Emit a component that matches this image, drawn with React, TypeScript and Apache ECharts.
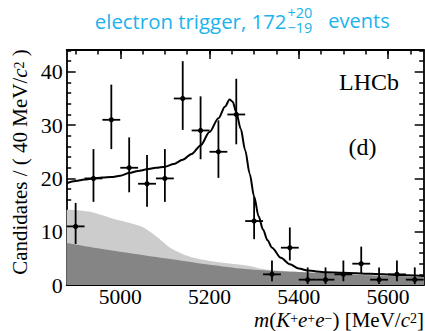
import React, { useEffect, useRef } from "react";
import * as echarts from "echarts";

// ---- data ----
const binCenters = [4900, 4940, 4980, 5020, 5060, 5100, 5140, 5180, 5220, 5260, 5300, 5340, 5380, 5420, 5460, 5500, 5540, 5580, 5620, 5660];
const counts = [11, 20, 31, 22, 19, 20, 35, 29, 25, 32, 12, 2, 7, 1, 1, 2, 4, 1, 2, 1];
const errLow = [7.7, 15.6, 25.5, 17.4, 14.7, 15.6, 29.1, 23.6, 20.1, 26.4, 8.6, 0.7, 4.6, 0.17, 0.17, 0.7, 2.1, 0.17, 0.7, 0.17];
const errHigh = [15.4, 25.5, 37.6, 27.7, 24.4, 25.5, 42.0, 35.4, 30.9, 38.7, 16.6, 4.6, 10.8, 3.3, 3.3, 4.6, 7.2, 3.3, 4.6, 3.3];
const binHalfWidth = 20;

const fitMass = [4880, 4900, 4920, 4940, 4960, 4980, 5000, 5020, 5040, 5060, 5080, 5100, 5120, 5140, 5160, 5180, 5200, 5220, 5235, 5245, 5252, 5260, 5270, 5280, 5290, 5300, 5310, 5320, 5330, 5340, 5360, 5380, 5400, 5420, 5460, 5500, 5560, 5620, 5680];
const fitValues = [19.1, 19.5, 19.8, 20.0, 20.15, 20.25, 20.5, 21.0, 21.4, 21.7, 22.0, 22.2, 22.7, 23.5, 24.6, 26.2, 28.7, 31.3, 33.5, 34.8, 34.4, 32.4, 29.3, 25.3, 20.9, 16.6, 12.9, 10.4, 8.4, 7.0, 5.1, 3.9, 3.1, 2.7, 2.4, 2.3, 2.1, 1.9, 1.7];

const partRecoMass = [4880, 4910, 4935, 4960, 4990, 5020, 5050, 5070, 5090, 5110, 5130, 5150, 5170, 5200, 5240, 5280, 5320, 5350, 5440, 5540, 5680];
const partRecoTop = [14.1, 14.0, 13.7, 13.1, 12.3, 11.7, 10.9, 9.8, 8.5, 7.1, 6.2, 5.5, 5.0, 4.5, 4.1, 3.7, 3.0, 2.7, 2.3, 1.9, 1.5];

const combMass = [4880, 4950, 5020, 5100, 5150, 5200, 5280, 5360, 5440, 5540, 5680];
const combValues = [7.9, 6.9, 6.0, 5.0, 4.4, 3.8, 3.0, 2.6, 2.3, 1.9, 1.5];

const xMajorTicks = [5000, 5200, 5400, 5600];
const xMinorTicks = [4900, 4950, 5000, 5050, 5100, 5150, 5200, 5250, 5300, 5350, 5400, 5450, 5500, 5550, 5600, 5650];
const yMajorTicks = [0, 10, 20, 30, 40];
const yMinorTicks = [2, 4, 6, 8, 12, 14, 16, 18, 22, 24, 26, 28, 32, 34, 36, 38, 42, 44];

const titleMain = "electron trigger, 172";
const titleUp = "+20";
const titleDown = "\u221219";
const titleTail = "events";

const X_MIN = 4880;
const X_MAX = 5680;
const Y_MIN = 0;
const Y_MAX = 44.1;

const SERIF = "Liberation Serif";
const SANS = "Open Sans";
const TITLE_COLOR = "#1ab3ec";

const zip = (a: number[], b: number[]) => a.map((v, i) => [v, b[i]]);

const lineStyle = { color: "#000", width: 1.8 };

function makeXAxis(position: "top" | "bottom", major: boolean, showLabels: boolean) {
  return {
    type: "value",
    position,
    min: X_MIN,
    max: X_MAX,
    axisLine: { show: major, onZero: false, lineStyle },
    axisTick: {
      show: true,
      inside: true,
      length: major ? 9 : 4.5,
      customValues: major ? xMajorTicks : xMinorTicks,
      lineStyle: { color: "#000", width: 1.5 },
    },
    axisLabel: showLabels
      ? {
          show: true,
          customValues: xMajorTicks,
          formatter: (v: number) => String(v),
          fontFamily: SERIF,
          fontSize: 21.5,
          lineHeight: 16,
          color: "#000",
          margin: 4,
        }
      : { show: false },
    splitLine: { show: false },
  };
}

function makeYAxis(position: "left" | "right", major: boolean, showLabels: boolean) {
  return {
    type: "value",
    position,
    min: Y_MIN,
    max: Y_MAX,
    axisLine: { show: major, onZero: false, lineStyle },
    axisTick: {
      show: true,
      inside: true,
      length: major ? 9 : 4.5,
      customValues: major ? yMajorTicks : yMinorTicks,
      lineStyle: { color: "#000", width: 1.5 },
    },
    axisLabel: showLabels
      ? {
          show: true,
          customValues: yMajorTicks,
          formatter: (v: number) => String(v),
          fontFamily: SERIF,
          fontSize: 22,
          color: "#000",
          margin: 4,
        }
      : { show: false },
    splitLine: { show: false },
  };
}

const richSerif = {
  n: { fontFamily: SERIF, fontSize: 21, lineHeight: 16, fill: "#000" },
  i: { fontFamily: SERIF, fontSize: 21, lineHeight: 16, fontStyle: "italic", fill: "#000" },
  s: { fontFamily: SERIF, fontSize: 14, lineHeight: 1, verticalAlign: "top", fill: "#000" },
};

export default function App() {
  const ref = useRef<HTMLDivElement>(null);
  useEffect(() => {
    if (!ref.current) return;
    const chart = echarts.init(ref.current, null, { renderer: "svg" });
    const option: any = {
      animation: false,
      backgroundColor: "#fff",
      grid: { left: 66.7, right: 1.3, top: 50, bottom: 46, containLabel: false },
      xAxis: [
        makeXAxis("bottom", true, true),
        makeXAxis("bottom", false, false),
        makeXAxis("top", true, false),
        makeXAxis("top", false, false),
      ],
      yAxis: [
        makeYAxis("left", true, true),
        makeYAxis("left", false, false),
        makeYAxis("right", true, false),
        makeYAxis("right", false, false),
      ],
      series: [
        {
          type: "line",
          name: "partially reconstructed",
          xAxisIndex: 0,
          yAxisIndex: 0,
          data: zip(partRecoMass, partRecoTop),
          symbol: "none",
          smooth: 0.3,
          lineStyle: { width: 0 },
          areaStyle: { color: "#cccccc", opacity: 1 },
          silent: true,
          z: 1,
        },
        {
          type: "line",
          name: "combinatorial",
          xAxisIndex: 0,
          yAxisIndex: 0,
          data: zip(combMass, combValues),
          symbol: "none",
          smooth: 0.3,
          lineStyle: { width: 0 },
          areaStyle: { color: "#858585", opacity: 1 },
          silent: true,
          z: 2,
        },
        {
          type: "line",
          name: "fit",
          xAxisIndex: 0,
          yAxisIndex: 0,
          data: zip(fitMass, fitValues),
          symbol: "none",
          smooth: 0.3,
          smoothMonotone: "x",
          lineStyle: { color: "#000", width: 2 },
          silent: true,
          z: 3,
        },
        {
          type: "custom",
          name: "data",
          xAxisIndex: 0,
          yAxisIndex: 0,
          z: 4,
          silent: true,
          encode: { x: 0, y: [1, 2, 3] },
          data: binCenters.map((m, i) => [m, counts[i], errLow[i], errHigh[i]]),
          renderItem: (_params: any, api: any) => {
            const x = api.value(0);
            const y = api.value(1);
            const lo = api.value(2);
            const hi = api.value(3);
            const c = api.coord([x, y]);
            const l = api.coord([x - binHalfWidth, y]);
            const r = api.coord([x + binHalfWidth, y]);
            const t = api.coord([x, hi]);
            const b = api.coord([x, lo]);
            const st = { stroke: "#000", lineWidth: 1.8 };
            return {
              type: "group",
              children: [
                { type: "line", shape: { x1: l[0], y1: l[1], x2: r[0], y2: r[1] }, style: st },
                { type: "line", shape: { x1: t[0], y1: t[1], x2: b[0], y2: b[1] }, style: st },
                { type: "circle", shape: { cx: c[0], cy: c[1], r: 2.6 }, style: { fill: "#000" } },
              ],
            };
          },
        },
      ],
      graphic: [
        {
          type: "text",
          x: 286.5,
          y: 20.5,
          style: { text: titleMain, fontFamily: SANS, fontSize: 20.4, fill: TITLE_COLOR, align: "right", verticalAlign: "middle" },
        },
        {
          type: "text",
          x: 287.5,
          y: 12,
          style: { text: titleUp, fontFamily: SANS, fontSize: 14.5, lineHeight: 10, fill: TITLE_COLOR, align: "left", verticalAlign: "middle" },
        },
        {
          type: "text",
          x: 287.5,
          y: 27.5,
          style: { text: titleDown, fontFamily: SANS, fontSize: 14.5, lineHeight: 10, fill: TITLE_COLOR, align: "left", verticalAlign: "middle" },
        },
        {
          type: "text",
          x: 328.3,
          y: 20.5,
          style: { text: titleTail, fontFamily: SANS, fontSize: 20, fill: TITLE_COLOR, align: "left", verticalAlign: "middle" },
        },
        {
          type: "text",
          x: 20,
          y: 162,
          rotation: Math.PI / 2,
          style: {
            text: "{n|Candidates / ( 40 MeV/}{i|c}{s|2}{n| )}",
            rich: richSerif,
            align: "center",
            verticalAlign: "middle",
          },
        },
        {
          type: "text",
          x: 424,
          y: 319.5,
          style: {
            text: "{i|m}{n|(}{i|K}{s|+}{i|e}{s|+}{i|e}{s|\u2212}{n|) [MeV/}{i|c}{s|2}{n|]}",
            rich: richSerif,
            align: "right",
            verticalAlign: "middle",
          },
        },
        {
          type: "text",
          x: 369,
          y: 82,
          style: { text: "LHCb", fontFamily: SERIF, fontSize: 24, fill: "#000", align: "center", verticalAlign: "middle" },
        },
        {
          type: "text",
          x: 362.5,
          y: 147,
          style: { text: "(d)", fontFamily: SERIF, fontSize: 24, fill: "#000", align: "center", verticalAlign: "middle" },
        },
      ],
    };
    chart.setOption(option);
    return () => chart.dispose();
  }, []);
  return (
    <div
      ref={ref}
      style={{ position: "fixed", left: 0, top: 0, width: 425, height: 331, background: "#fff" }}
    />
  );
}
